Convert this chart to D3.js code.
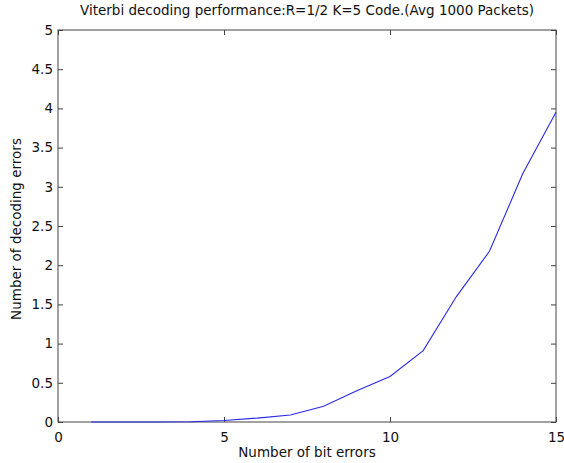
<!DOCTYPE html>
<html>
<head>
<meta charset="utf-8">
<script src="https://cdn.jsdelivr.net/npm/d3@7"></script>
<style>
  body { margin: 0; background: #fff; }
  text { font-family: "DejaVu Sans", sans-serif; fill: #111; }
</style>
</head>
<body>
<script>
// data
var bitErrors = [1, 2, 3, 4, 5, 6, 7, 8, 9, 10, 11, 12, 13, 14, 15];
var decodingErrors = [0, 0, 0, 0.003, 0.02, 0.05, 0.09, 0.2, 0.4, 0.58, 0.91, 1.6, 2.18, 3.17, 3.95];
var xTicks = [0, 5, 10, 15];
var yTicks = [0, 0.5, 1, 1.5, 2, 2.5, 3, 3.5, 4, 4.5, 5];

var width = 564, height = 463;
var margin = {top: 30, right: 8, bottom: 41, left: 58};
var fontSize = 13.5;

var svg = d3.select("body")
  .append("svg")
  .attr("width", width)
  .attr("height", height);

var x = d3.scaleLinear().domain([0, 15]).range([margin.left, width - margin.right]);
var y = d3.scaleLinear().domain([0, 5]).range([height - margin.bottom, margin.top]);

var axisColor = "#444";

// box
svg.append("rect")
  .attr("x", x(0))
  .attr("y", y(5))
  .attr("width", x(15) - x(0))
  .attr("height", y(0) - y(5))
  .attr("fill", "#fff")
  .attr("stroke", axisColor)
  .attr("stroke-width", 1);

function styleAxis(g) {
  g.select(".domain").remove();
  g.selectAll(".tick line").attr("stroke", axisColor);
  g.selectAll(".tick text")
    .attr("font-size", fontSize)
    .attr("font-family", "DejaVu Sans, sans-serif")
    .attr("fill", "#111");
}

// bottom / left with labels, inward ticks
svg.append("g")
  .attr("transform", "translate(0," + y(0) + ")")
  .call(d3.axisBottom(x).tickValues(xTicks).tickFormat(d3.format("d")).tickSizeInner(-5).tickPadding(10))
  .call(styleAxis);

svg.append("g")
  .attr("transform", "translate(" + x(0) + ",0)")
  .call(d3.axisLeft(y).tickValues(yTicks).tickFormat(function(d) { return String(d); }).tickSizeInner(-5).tickPadding(5))
  .call(styleAxis);

// top / right ticks only
svg.append("g")
  .attr("transform", "translate(0," + y(5) + ")")
  .call(d3.axisTop(x).tickValues(xTicks).tickFormat("").tickSizeInner(-5))
  .call(styleAxis);

svg.append("g")
  .attr("transform", "translate(" + x(15) + ",0)")
  .call(d3.axisRight(y).tickValues(yTicks).tickFormat("").tickSizeInner(-5))
  .call(styleAxis);

// line
var line = d3.line()
  .x(function(d, i) { return x(bitErrors[i]); })
  .y(function(d) { return y(d); });

svg.append("path")
  .datum(decodingErrors)
  .attr("d", line)
  .attr("fill", "none")
  .attr("stroke", "#2a2ae6")
  .attr("stroke-width", 1.1);

// title and labels
svg.append("text")
  .attr("x", (x(0) + x(15)) / 2)
  .attr("y", 15)
  .attr("text-anchor", "middle")
  .attr("font-size", fontSize)
  .text("Viterbi decoding performance:R=1/2 K=5 Code.(Avg 1000 Packets)");

svg.append("text")
  .attr("x", (x(0) + x(15)) / 2)
  .attr("y", 457)
  .attr("text-anchor", "middle")
  .attr("font-size", fontSize)
  .text("Number of bit errors");

svg.append("text")
  .attr("transform", "translate(21," + ((y(0) + y(5)) / 2 + 3) + ") rotate(-90)")
  .attr("text-anchor", "middle")
  .attr("font-size", fontSize)
  .text("Number of decoding errors");
</script>
</body>
</html>
